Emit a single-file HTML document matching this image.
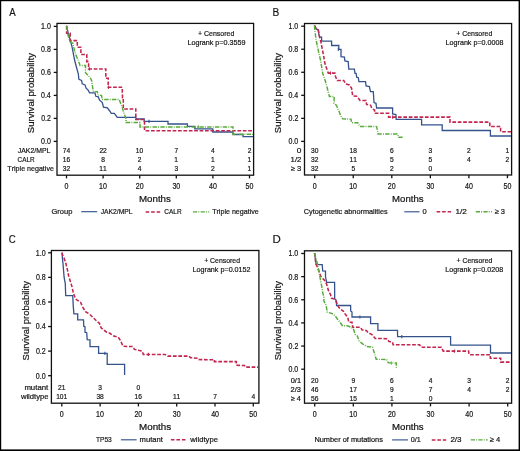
<!DOCTYPE html>
<html><head><meta charset="utf-8"><style>
html,body{margin:0;padding:0;background:#fff;}
svg{display:block;will-change:transform;}
text{font-family:"Liberation Sans",sans-serif;font-kerning:none;stroke:#141414;stroke-width:0.2px;}
</style></head><body>
<svg width="520" height="451" viewBox="0 0 520 451">
<rect x="0" y="0" width="520" height="451" fill="#fff"/>
<rect x="0" y="0" width="520" height="1.2" fill="#000"/>
<rect x="0" y="0" width="1.2" height="451" fill="#000"/>
<rect x="518.6" y="0" width="1.4" height="451" fill="#000"/>
<rect x="0" y="449.4" width="520" height="1.6" fill="#000"/>
<text transform="translate(9.28,16.10) scale(0.8321,1)" font-size="11.6" fill="#141414" style="stroke-width:0.18px">A</text>
<rect x="57.00" y="23.40" width="196.60" height="151.80" fill="none" stroke="#111" stroke-width="1.3"/>
<line x1="53.70" y1="141.40" x2="57.00" y2="141.40" stroke="#111" stroke-width="1.3"/>
<text transform="translate(41.07,144.30) scale(0.8300,1)" font-size="8.5" fill="#141414">0.0</text>
<line x1="53.70" y1="118.40" x2="57.00" y2="118.40" stroke="#111" stroke-width="1.3"/>
<text transform="translate(41.15,121.30) scale(0.8300,1)" font-size="8.5" fill="#141414">0.2</text>
<line x1="53.70" y1="95.40" x2="57.00" y2="95.40" stroke="#111" stroke-width="1.3"/>
<text transform="translate(41.00,98.30) scale(0.8300,1)" font-size="8.5" fill="#141414">0.4</text>
<line x1="53.70" y1="72.40" x2="57.00" y2="72.40" stroke="#111" stroke-width="1.3"/>
<text transform="translate(41.10,75.30) scale(0.8300,1)" font-size="8.5" fill="#141414">0.6</text>
<line x1="53.70" y1="49.40" x2="57.00" y2="49.40" stroke="#111" stroke-width="1.3"/>
<text transform="translate(41.10,52.30) scale(0.8300,1)" font-size="8.5" fill="#141414">0.8</text>
<line x1="53.70" y1="26.40" x2="57.00" y2="26.40" stroke="#111" stroke-width="1.3"/>
<text transform="translate(41.07,29.30) scale(0.8300,1)" font-size="8.5" fill="#141414">1.0</text>
<text transform="translate(33.80,132.70) rotate(-90) translate(-0.43,0) scale(1.0160,1)" font-size="9.4" fill="#141414">Survival probability</text>
<line x1="66.50" y1="175.20" x2="66.50" y2="178.40" stroke="#111" stroke-width="1.3"/>
<text transform="translate(64.54,188.50) scale(0.8300,1)" font-size="8.5" fill="#141414">0</text>
<line x1="103.10" y1="175.20" x2="103.10" y2="178.40" stroke="#111" stroke-width="1.3"/>
<text transform="translate(99.05,188.50) scale(0.8300,1)" font-size="8.5" fill="#141414">10</text>
<line x1="139.70" y1="175.20" x2="139.70" y2="178.40" stroke="#111" stroke-width="1.3"/>
<text transform="translate(135.74,188.50) scale(0.8300,1)" font-size="8.5" fill="#141414">20</text>
<line x1="176.30" y1="175.20" x2="176.30" y2="178.40" stroke="#111" stroke-width="1.3"/>
<text transform="translate(172.38,188.50) scale(0.8300,1)" font-size="8.5" fill="#141414">30</text>
<line x1="212.90" y1="175.20" x2="212.90" y2="178.40" stroke="#111" stroke-width="1.3"/>
<text transform="translate(209.03,188.50) scale(0.8300,1)" font-size="8.5" fill="#141414">40</text>
<line x1="249.50" y1="175.20" x2="249.50" y2="178.40" stroke="#111" stroke-width="1.3"/>
<text transform="translate(245.57,188.50) scale(0.8300,1)" font-size="8.5" fill="#141414">50</text>
<text transform="translate(17.79,153.20) scale(0.9336,1)" font-size="7.4" fill="#141414">JAK2/MPL</text>
<text transform="translate(62.72,153.20) scale(0.9000,1)" font-size="7.4" fill="#141414">74</text>
<text transform="translate(99.40,153.20) scale(0.9000,1)" font-size="7.4" fill="#141414">22</text>
<text transform="translate(135.87,153.20) scale(0.9000,1)" font-size="7.4" fill="#141414">10</text>
<text transform="translate(174.44,153.20) scale(0.9000,1)" font-size="7.4" fill="#141414">7</text>
<text transform="translate(211.07,153.20) scale(0.9000,1)" font-size="7.4" fill="#141414">4</text>
<text transform="translate(247.65,153.20) scale(0.9000,1)" font-size="7.4" fill="#141414">2</text>
<text transform="translate(17.58,162.20) scale(0.8622,1)" font-size="7.4" fill="#141414">CALR</text>
<text transform="translate(62.69,162.20) scale(0.9000,1)" font-size="7.4" fill="#141414">16</text>
<text transform="translate(101.25,162.20) scale(0.9000,1)" font-size="7.4" fill="#141414">8</text>
<text transform="translate(137.85,162.20) scale(0.9000,1)" font-size="7.4" fill="#141414">2</text>
<text transform="translate(174.36,162.20) scale(0.9000,1)" font-size="7.4" fill="#141414">1</text>
<text transform="translate(210.96,162.20) scale(0.9000,1)" font-size="7.4" fill="#141414">1</text>
<text transform="translate(247.56,162.20) scale(0.9000,1)" font-size="7.4" fill="#141414">1</text>
<text transform="translate(7.34,171.30) scale(0.9596,1)" font-size="7.4" fill="#141414">Triple negative</text>
<text transform="translate(62.84,171.30) scale(0.9000,1)" font-size="7.4" fill="#141414">32</text>
<text transform="translate(99.30,171.30) scale(0.9000,1)" font-size="7.4" fill="#141414">11</text>
<text transform="translate(137.87,171.30) scale(0.9000,1)" font-size="7.4" fill="#141414">4</text>
<text transform="translate(174.47,171.30) scale(0.9000,1)" font-size="7.4" fill="#141414">3</text>
<text transform="translate(211.05,171.30) scale(0.9000,1)" font-size="7.4" fill="#141414">2</text>
<text transform="translate(247.56,171.30) scale(0.9000,1)" font-size="7.4" fill="#141414">1</text>
<text transform="translate(139.00,201.70) scale(1.1329,1)" font-size="8.6" fill="#141414">Months</text>
<text transform="translate(51.52,213.70) scale(0.9892,1)" font-size="7.6" fill="#141414">Group</text>
<line x1="81.30" y1="211.70" x2="97.20" y2="211.70" stroke="#34538c" stroke-width="1.15"/>
<text transform="translate(100.69,213.70) scale(0.8865,1)" font-size="7.6" fill="#141414">JAK2/MPL</text>
<line x1="145.60" y1="211.90" x2="160.20" y2="211.90" stroke="#c2254e" stroke-width="1.5" stroke-dasharray="3.6,1.9"/>
<text transform="translate(164.27,213.70) scale(0.8549,1)" font-size="7.6" fill="#141414">CALR</text>
<line x1="193.00" y1="211.90" x2="209.20" y2="211.90" stroke="#58ab3a" stroke-width="1.4" stroke-dasharray="4.2,1.1,1,1.3"/>
<text transform="translate(212.14,213.70) scale(0.9363,1)" font-size="7.6" fill="#141414">Triple negative</text>
<text transform="translate(197.96,35.70) scale(0.8752,1)" font-size="8.0" fill="#141414">+ Censored</text>
<text transform="translate(187.41,44.70) scale(0.8981,1)" font-size="8.0" fill="#141414">Logrank p=0.3559</text>
<polyline points="66.60,25.80 68.20,33.30 72.00,46.60 74.60,60.00 76.40,67.00 78.30,73.80 78.90,79.40 81.60,80.50 82.20,83.80 85.00,84.90 86.10,88.20 88.00,90.00 89.60,92.80 95.00,92.80 95.80,96.30 98.10,96.70 99.60,100.20 102.30,102.50 103.50,107.10 107.40,107.90 109.70,111.00 111.30,113.30 114.40,113.30 115.10,114.50 117.20,117.40 135.80,117.40 136.20,119.00 144.20,119.00 144.20,121.40 168.00,121.40 168.00,124.00 187.40,124.00 187.40,126.40 194.80,126.40 194.80,128.90 212.80,128.90 212.80,132.00 233.00,132.00 233.00,134.50 243.00,134.50 243.00,136.60 253.00,136.60" fill="none" stroke="#34538c" stroke-width="1.3" stroke-linejoin="miter"/>
<line x1="149.00" y1="119.80" x2="149.00" y2="123.00" stroke="#34538c" stroke-width="1.1"/>
<polyline points="66.60,25.80 66.60,33.30 70.20,33.30 70.20,40.60 77.30,40.60 77.30,47.20 80.90,47.20 80.90,54.40 86.80,54.40 86.80,61.60 88.60,61.60 88.60,68.90 105.80,68.90 105.80,78.30 108.20,78.30 108.20,87.30 122.20,87.30 122.50,97.70 123.30,97.70 123.30,108.90 135.80,108.90 135.80,119.50 144.50,119.50 144.50,130.70 253.00,130.70" fill="none" stroke="#c2254e" stroke-width="1.55" stroke-linejoin="miter" stroke-dasharray="3.7,1.7"/>
<line x1="89.40" y1="67.30" x2="89.40" y2="70.50" stroke="#c2254e" stroke-width="1.1"/>
<line x1="108.50" y1="85.70" x2="108.50" y2="88.90" stroke="#c2254e" stroke-width="1.1"/>
<polyline points="66.60,25.80 68.10,35.50 70.10,41.70 72.80,43.30 75.50,54.10 78.30,60.50 80.00,65.50 85.50,65.50 85.50,72.70 87.70,75.00 90.50,78.30 91.60,80.50 92.70,87.80 93.40,91.60 97.30,91.60 98.10,94.70 101.60,95.50 102.00,99.40 119.20,99.40 120.60,103.30 122.10,107.10 123.30,111.00 124.40,114.30 126.00,118.80 126.00,122.50 140.00,122.50 140.00,126.90 233.00,126.90 233.00,134.20 253.00,134.20" fill="none" stroke="#58ab3a" stroke-width="1.45" stroke-linejoin="miter" stroke-dasharray="4.4,1.2,0.9,1.3"/>
<line x1="198.30" y1="125.30" x2="198.30" y2="128.50" stroke="#58ab3a" stroke-width="1.1"/>
<text transform="translate(272.57,16.00) scale(0.8747,1)" font-size="11.6" fill="#141414" style="stroke-width:0.18px">B</text>
<rect x="304.50" y="23.50" width="207.10" height="151.50" fill="none" stroke="#111" stroke-width="1.3"/>
<line x1="301.20" y1="141.40" x2="304.50" y2="141.40" stroke="#111" stroke-width="1.3"/>
<text transform="translate(288.47,144.30) scale(0.8300,1)" font-size="8.5" fill="#141414">0.0</text>
<line x1="301.20" y1="118.36" x2="304.50" y2="118.36" stroke="#111" stroke-width="1.3"/>
<text transform="translate(288.55,121.26) scale(0.8300,1)" font-size="8.5" fill="#141414">0.2</text>
<line x1="301.20" y1="95.32" x2="304.50" y2="95.32" stroke="#111" stroke-width="1.3"/>
<text transform="translate(288.40,98.22) scale(0.8300,1)" font-size="8.5" fill="#141414">0.4</text>
<line x1="301.20" y1="72.28" x2="304.50" y2="72.28" stroke="#111" stroke-width="1.3"/>
<text transform="translate(288.50,75.18) scale(0.8300,1)" font-size="8.5" fill="#141414">0.6</text>
<line x1="301.20" y1="49.24" x2="304.50" y2="49.24" stroke="#111" stroke-width="1.3"/>
<text transform="translate(288.50,52.14) scale(0.8300,1)" font-size="8.5" fill="#141414">0.8</text>
<line x1="301.20" y1="26.20" x2="304.50" y2="26.20" stroke="#111" stroke-width="1.3"/>
<text transform="translate(288.47,29.10) scale(0.8300,1)" font-size="8.5" fill="#141414">1.0</text>
<text transform="translate(281.40,132.70) rotate(-90) translate(-0.43,0) scale(1.0160,1)" font-size="9.4" fill="#141414">Survival probability</text>
<line x1="314.70" y1="175.00" x2="314.70" y2="178.20" stroke="#111" stroke-width="1.3"/>
<text transform="translate(312.74,188.70) scale(0.8300,1)" font-size="8.5" fill="#141414">0</text>
<line x1="353.25" y1="175.00" x2="353.25" y2="178.20" stroke="#111" stroke-width="1.3"/>
<text transform="translate(349.20,188.70) scale(0.8300,1)" font-size="8.5" fill="#141414">10</text>
<line x1="391.80" y1="175.00" x2="391.80" y2="178.20" stroke="#111" stroke-width="1.3"/>
<text transform="translate(387.84,188.70) scale(0.8300,1)" font-size="8.5" fill="#141414">20</text>
<line x1="430.35" y1="175.00" x2="430.35" y2="178.20" stroke="#111" stroke-width="1.3"/>
<text transform="translate(426.43,188.70) scale(0.8300,1)" font-size="8.5" fill="#141414">30</text>
<line x1="468.90" y1="175.00" x2="468.90" y2="178.20" stroke="#111" stroke-width="1.3"/>
<text transform="translate(465.03,188.70) scale(0.8300,1)" font-size="8.5" fill="#141414">40</text>
<line x1="507.45" y1="175.00" x2="507.45" y2="178.20" stroke="#111" stroke-width="1.3"/>
<text transform="translate(503.52,188.70) scale(0.8300,1)" font-size="8.5" fill="#141414">50</text>
<text transform="translate(296.67,153.20) scale(1.1308,1)" font-size="7.4" fill="#141414">0</text>
<text transform="translate(311.00,153.20) scale(0.9000,1)" font-size="7.4" fill="#141414">30</text>
<text transform="translate(349.44,153.20) scale(0.9000,1)" font-size="7.4" fill="#141414">18</text>
<text transform="translate(389.93,153.20) scale(0.9000,1)" font-size="7.4" fill="#141414">6</text>
<text transform="translate(428.52,153.20) scale(0.9000,1)" font-size="7.4" fill="#141414">3</text>
<text transform="translate(467.05,153.20) scale(0.9000,1)" font-size="7.4" fill="#141414">2</text>
<text transform="translate(505.51,153.20) scale(0.9000,1)" font-size="7.4" fill="#141414">1</text>
<text transform="translate(290.61,162.30) scale(1.0480,1)" font-size="7.4" fill="#141414">1/2</text>
<text transform="translate(311.04,162.30) scale(0.9000,1)" font-size="7.4" fill="#141414">32</text>
<text transform="translate(349.45,162.30) scale(0.9000,1)" font-size="7.4" fill="#141414">11</text>
<text transform="translate(389.95,162.30) scale(0.9000,1)" font-size="7.4" fill="#141414">5</text>
<text transform="translate(428.50,162.30) scale(0.9000,1)" font-size="7.4" fill="#141414">5</text>
<text transform="translate(467.07,162.30) scale(0.9000,1)" font-size="7.4" fill="#141414">4</text>
<text transform="translate(505.60,162.30) scale(0.9000,1)" font-size="7.4" fill="#141414">2</text>
<text transform="translate(290.76,171.40) scale(1.0338,1)" font-size="7.4" fill="#141414">≥ 3</text>
<text transform="translate(311.04,171.40) scale(0.9000,1)" font-size="7.4" fill="#141414">32</text>
<text transform="translate(351.40,171.40) scale(0.9000,1)" font-size="7.4" fill="#141414">5</text>
<text transform="translate(389.95,171.40) scale(0.9000,1)" font-size="7.4" fill="#141414">2</text>
<text transform="translate(428.50,171.40) scale(0.9000,1)" font-size="7.4" fill="#141414">0</text>
<text transform="translate(392.11,201.70) scale(1.1146,1)" font-size="8.6" fill="#141414">Months</text>
<text transform="translate(303.73,214.30) scale(0.9610,1)" font-size="7.6" fill="#141414">Cytogenetic abnormalities</text>
<line x1="404.30" y1="211.80" x2="419.50" y2="211.80" stroke="#34538c" stroke-width="1.15"/>
<text transform="translate(422.61,214.30) scale(0.9909,1)" font-size="7.6" fill="#141414">0</text>
<line x1="436.60" y1="211.80" x2="451.10" y2="211.80" stroke="#c2254e" stroke-width="1.5" stroke-dasharray="3.6,1.9"/>
<text transform="translate(455.38,214.30) scale(1.0725,1)" font-size="7.6" fill="#141414">1/2</text>
<line x1="475.80" y1="211.80" x2="491.90" y2="211.80" stroke="#58ab3a" stroke-width="1.4" stroke-dasharray="4.2,1.1,1,1.3"/>
<text transform="translate(494.66,214.30) scale(0.9865,1)" font-size="7.6" fill="#141414">≥ 3</text>
<text transform="translate(456.16,35.70) scale(0.8703,1)" font-size="8.0" fill="#141414">+ Censored</text>
<text transform="translate(445.61,44.70) scale(0.8946,1)" font-size="8.0" fill="#141414">Logrank p=0.0008</text>
<polyline points="314.40,25.50 316.10,28.90 318.30,30.00 318.90,34.40 320.00,37.20 321.60,37.20 321.60,41.10 331.60,41.10 331.60,45.50 338.80,45.50 338.80,49.40 341.00,49.40 341.00,56.60 344.40,57.10 344.90,61.00 348.20,61.60 348.80,69.20 354.40,69.20 355.00,73.30 356.10,73.30 356.70,77.20 358.30,77.70 358.90,81.60 365.50,81.60 366.10,86.00 369.40,86.60 370.50,91.60 373.30,91.60 374.00,102.60 376.00,103.30 376.60,108.00 392.60,108.00 392.60,113.90 395.90,114.60 396.20,119.40 421.60,119.40 421.60,124.90 442.20,124.90 442.20,130.50 490.40,130.50 490.40,136.00 511.00,136.00" fill="none" stroke="#34538c" stroke-width="1.3" stroke-linejoin="miter"/>
<line x1="338.30" y1="47.80" x2="338.30" y2="51.00" stroke="#34538c" stroke-width="1.1"/>
<polyline points="314.40,25.50 316.10,28.30 318.30,30.00 319.40,36.60 321.00,42.20 322.20,48.80 323.60,55.50 324.50,61.50 325.50,65.50 327.20,70.00 328.30,73.10 334.90,73.10 335.50,76.60 337.20,80.50 343.80,80.50 345.50,83.80 349.40,85.00 351.60,88.30 352.70,96.00 356.60,96.30 358.80,98.80 360.00,100.50 366.00,100.60 366.60,104.40 370.60,105.30 372.00,108.60 374.60,110.00 374.60,113.30 388.60,113.30 388.60,117.10 450.00,117.10 450.00,122.10 489.80,122.10 489.80,126.50 500.60,126.50 500.60,131.70 511.00,131.70" fill="none" stroke="#c2254e" stroke-width="1.55" stroke-linejoin="miter" stroke-dasharray="3.7,1.7"/>
<line x1="330.50" y1="71.50" x2="330.50" y2="74.70" stroke="#c2254e" stroke-width="1.1"/>
<line x1="392.60" y1="115.50" x2="392.60" y2="118.70" stroke="#c2254e" stroke-width="1.1"/>
<polyline points="314.40,25.50 315.00,31.10 316.10,40.00 317.70,47.70 318.90,53.30 320.50,60.00 321.60,66.70 322.70,73.30 325.00,80.00 326.60,85.50 328.30,92.20 329.40,96.50 334.20,96.50 334.00,103.30 336.60,105.50 337.70,108.90 339.40,112.20 340.50,115.50 342.70,118.80 351.00,119.20 351.60,122.70 357.70,122.70 359.90,126.40 376.60,126.60 377.30,129.90 378.00,133.90 397.20,133.90 398.60,137.20 402.60,137.20" fill="none" stroke="#58ab3a" stroke-width="1.45" stroke-linejoin="miter" stroke-dasharray="4.4,1.2,0.9,1.3"/>
<text transform="translate(8.71,243.20) scale(0.8304,1)" font-size="11.6" fill="#141414" style="stroke-width:0.18px">C</text>
<rect x="51.40" y="250.50" width="207.50" height="152.70" fill="none" stroke="#111" stroke-width="1.3"/>
<line x1="48.10" y1="375.70" x2="51.40" y2="375.70" stroke="#111" stroke-width="1.3"/>
<text transform="translate(35.87,378.60) scale(0.8300,1)" font-size="8.5" fill="#141414">0.0</text>
<line x1="48.10" y1="351.12" x2="51.40" y2="351.12" stroke="#111" stroke-width="1.3"/>
<text transform="translate(35.95,354.02) scale(0.8300,1)" font-size="8.5" fill="#141414">0.2</text>
<line x1="48.10" y1="326.54" x2="51.40" y2="326.54" stroke="#111" stroke-width="1.3"/>
<text transform="translate(35.80,329.44) scale(0.8300,1)" font-size="8.5" fill="#141414">0.4</text>
<line x1="48.10" y1="301.96" x2="51.40" y2="301.96" stroke="#111" stroke-width="1.3"/>
<text transform="translate(35.90,304.86) scale(0.8300,1)" font-size="8.5" fill="#141414">0.6</text>
<line x1="48.10" y1="277.38" x2="51.40" y2="277.38" stroke="#111" stroke-width="1.3"/>
<text transform="translate(35.90,280.28) scale(0.8300,1)" font-size="8.5" fill="#141414">0.8</text>
<line x1="48.10" y1="252.80" x2="51.40" y2="252.80" stroke="#111" stroke-width="1.3"/>
<text transform="translate(35.87,255.70) scale(0.8300,1)" font-size="8.5" fill="#141414">1.0</text>
<text transform="translate(28.70,360.00) rotate(-90) translate(-0.43,0) scale(1.0071,1)" font-size="9.4" fill="#141414">Survival probability</text>
<line x1="61.80" y1="403.20" x2="61.80" y2="406.40" stroke="#111" stroke-width="1.3"/>
<text transform="translate(59.84,416.50) scale(0.8300,1)" font-size="8.5" fill="#141414">0</text>
<line x1="100.10" y1="403.20" x2="100.10" y2="406.40" stroke="#111" stroke-width="1.3"/>
<text transform="translate(96.05,416.50) scale(0.8300,1)" font-size="8.5" fill="#141414">10</text>
<line x1="138.40" y1="403.20" x2="138.40" y2="406.40" stroke="#111" stroke-width="1.3"/>
<text transform="translate(134.44,416.50) scale(0.8300,1)" font-size="8.5" fill="#141414">20</text>
<line x1="176.70" y1="403.20" x2="176.70" y2="406.40" stroke="#111" stroke-width="1.3"/>
<text transform="translate(172.78,416.50) scale(0.8300,1)" font-size="8.5" fill="#141414">30</text>
<line x1="215.00" y1="403.20" x2="215.00" y2="406.40" stroke="#111" stroke-width="1.3"/>
<text transform="translate(211.13,416.50) scale(0.8300,1)" font-size="8.5" fill="#141414">40</text>
<line x1="253.30" y1="403.20" x2="253.30" y2="406.40" stroke="#111" stroke-width="1.3"/>
<text transform="translate(249.37,416.50) scale(0.8300,1)" font-size="8.5" fill="#141414">50</text>
<text transform="translate(24.38,390.30) scale(1.0554,1)" font-size="7.4" fill="#141414">mutant</text>
<text transform="translate(58.09,390.30) scale(0.9000,1)" font-size="7.4" fill="#141414">21</text>
<text transform="translate(98.27,390.30) scale(0.9000,1)" font-size="7.4" fill="#141414">3</text>
<text transform="translate(136.55,390.30) scale(0.9000,1)" font-size="7.4" fill="#141414">0</text>
<text transform="translate(20.91,399.30) scale(1.0334,1)" font-size="7.4" fill="#141414">wildtype</text>
<text transform="translate(56.15,399.30) scale(0.9000,1)" font-size="7.4" fill="#141414">101</text>
<text transform="translate(96.41,399.30) scale(0.9000,1)" font-size="7.4" fill="#141414">38</text>
<text transform="translate(134.59,399.30) scale(0.9000,1)" font-size="7.4" fill="#141414">16</text>
<text transform="translate(172.90,399.30) scale(0.9000,1)" font-size="7.4" fill="#141414">11</text>
<text transform="translate(213.14,399.30) scale(0.9000,1)" font-size="7.4" fill="#141414">7</text>
<text transform="translate(251.47,399.30) scale(0.9000,1)" font-size="7.4" fill="#141414">4</text>
<text transform="translate(138.99,430.00) scale(1.1440,1)" font-size="8.6" fill="#141414">Months</text>
<text transform="translate(96.05,442.00) scale(0.8663,1)" font-size="7.6" fill="#141414">TP53</text>
<line x1="120.90" y1="439.80" x2="136.60" y2="439.80" stroke="#34538c" stroke-width="1.15"/>
<text transform="translate(139.59,442.00) scale(1.0056,1)" font-size="7.6" fill="#141414">mutant</text>
<line x1="170.90" y1="439.80" x2="185.90" y2="439.80" stroke="#c2254e" stroke-width="1.5" stroke-dasharray="3.6,1.9"/>
<text transform="translate(190.31,442.00) scale(1.0062,1)" font-size="7.6" fill="#141414">wildtype</text>
<text transform="translate(204.16,262.60) scale(0.8629,1)" font-size="8.0" fill="#141414">+ Censored</text>
<text transform="translate(192.51,272.00) scale(0.8985,1)" font-size="8.0" fill="#141414">Logrank p=0.0152</text>
<polyline points="62.00,252.60 62.50,259.10 63.10,264.60 63.60,271.30 64.20,278.00 65.30,283.50 65.50,290.10 65.70,295.60 72.70,295.60 73.30,306.60 73.90,313.80 77.70,313.80 77.70,319.90 83.50,319.90 83.80,326.40 85.00,326.70 85.00,332.20 86.70,332.70 87.20,339.60 90.00,339.80 90.00,346.60 98.60,346.60 98.60,353.30 107.20,353.30 107.20,364.30 124.60,364.30 124.60,375.00" fill="none" stroke="#34538c" stroke-width="1.3" stroke-linejoin="miter"/>
<line x1="104.90" y1="351.70" x2="104.90" y2="354.90" stroke="#34538c" stroke-width="1.1"/>
<polyline points="62.00,252.60 62.50,254.70 64.20,258.50 65.90,263.50 67.50,270.20 68.60,275.70 70.30,281.30 72.00,286.80 73.20,292.30 73.90,294.40 75.50,298.90 80.50,302.20 82.70,307.20 85.50,311.60 88.30,313.30 91.00,315.50 93.80,318.30 96.60,321.00 99.40,323.30 101.10,327.80 106.60,332.20 109.90,333.30 113.80,336.10 118.20,337.20 120.50,340.50 123.00,346.30 132.70,346.60 134.40,349.40 142.20,351.10 143.30,354.40 165.00,354.40 167.70,356.10 188.80,356.10 190.60,357.70 197.90,358.30 198.80,359.60 214.40,359.70 214.40,361.60 236.30,361.60 236.30,365.20 244.50,365.60 245.40,367.10 258.00,367.10" fill="none" stroke="#c2254e" stroke-width="1.55" stroke-linejoin="miter" stroke-dasharray="3.7,1.7"/>
<line x1="148.30" y1="352.80" x2="148.30" y2="356.00" stroke="#c2254e" stroke-width="1.1"/>
<text transform="translate(272.46,242.80) scale(0.9897,1)" font-size="11.6" fill="#141414" style="stroke-width:0.18px">D</text>
<rect x="304.50" y="250.80" width="207.10" height="152.40" fill="none" stroke="#111" stroke-width="1.3"/>
<line x1="301.20" y1="369.20" x2="304.50" y2="369.20" stroke="#111" stroke-width="1.3"/>
<text transform="translate(288.47,372.10) scale(0.8300,1)" font-size="8.5" fill="#141414">0.0</text>
<line x1="301.20" y1="346.06" x2="304.50" y2="346.06" stroke="#111" stroke-width="1.3"/>
<text transform="translate(288.55,348.96) scale(0.8300,1)" font-size="8.5" fill="#141414">0.2</text>
<line x1="301.20" y1="322.92" x2="304.50" y2="322.92" stroke="#111" stroke-width="1.3"/>
<text transform="translate(288.40,325.82) scale(0.8300,1)" font-size="8.5" fill="#141414">0.4</text>
<line x1="301.20" y1="299.78" x2="304.50" y2="299.78" stroke="#111" stroke-width="1.3"/>
<text transform="translate(288.50,302.68) scale(0.8300,1)" font-size="8.5" fill="#141414">0.6</text>
<line x1="301.20" y1="276.64" x2="304.50" y2="276.64" stroke="#111" stroke-width="1.3"/>
<text transform="translate(288.50,279.54) scale(0.8300,1)" font-size="8.5" fill="#141414">0.8</text>
<line x1="301.20" y1="253.50" x2="304.50" y2="253.50" stroke="#111" stroke-width="1.3"/>
<text transform="translate(288.47,256.40) scale(0.8300,1)" font-size="8.5" fill="#141414">1.0</text>
<text transform="translate(281.30,359.80) rotate(-90) translate(-0.43,0) scale(1.0058,1)" font-size="9.4" fill="#141414">Survival probability</text>
<line x1="314.70" y1="403.20" x2="314.70" y2="406.40" stroke="#111" stroke-width="1.3"/>
<text transform="translate(312.74,416.70) scale(0.8300,1)" font-size="8.5" fill="#141414">0</text>
<line x1="353.30" y1="403.20" x2="353.30" y2="406.40" stroke="#111" stroke-width="1.3"/>
<text transform="translate(349.25,416.70) scale(0.8300,1)" font-size="8.5" fill="#141414">10</text>
<line x1="391.90" y1="403.20" x2="391.90" y2="406.40" stroke="#111" stroke-width="1.3"/>
<text transform="translate(387.94,416.70) scale(0.8300,1)" font-size="8.5" fill="#141414">20</text>
<line x1="430.50" y1="403.20" x2="430.50" y2="406.40" stroke="#111" stroke-width="1.3"/>
<text transform="translate(426.58,416.70) scale(0.8300,1)" font-size="8.5" fill="#141414">30</text>
<line x1="469.10" y1="403.20" x2="469.10" y2="406.40" stroke="#111" stroke-width="1.3"/>
<text transform="translate(465.23,416.70) scale(0.8300,1)" font-size="8.5" fill="#141414">40</text>
<line x1="507.70" y1="403.20" x2="507.70" y2="406.40" stroke="#111" stroke-width="1.3"/>
<text transform="translate(503.77,416.70) scale(0.8300,1)" font-size="8.5" fill="#141414">50</text>
<text transform="translate(290.71,382.60) scale(1.0066,1)" font-size="7.4" fill="#141414">0/1</text>
<text transform="translate(310.96,382.60) scale(0.9000,1)" font-size="7.4" fill="#141414">20</text>
<text transform="translate(351.45,382.60) scale(0.9000,1)" font-size="7.4" fill="#141414">9</text>
<text transform="translate(390.03,382.60) scale(0.9000,1)" font-size="7.4" fill="#141414">6</text>
<text transform="translate(428.67,382.60) scale(0.9000,1)" font-size="7.4" fill="#141414">4</text>
<text transform="translate(467.27,382.60) scale(0.9000,1)" font-size="7.4" fill="#141414">3</text>
<text transform="translate(505.85,382.60) scale(0.9000,1)" font-size="7.4" fill="#141414">2</text>
<text transform="translate(290.62,391.90) scale(1.0115,1)" font-size="7.4" fill="#141414">2/3</text>
<text transform="translate(311.07,391.90) scale(0.9000,1)" font-size="7.4" fill="#141414">46</text>
<text transform="translate(349.51,391.90) scale(0.9000,1)" font-size="7.4" fill="#141414">17</text>
<text transform="translate(390.05,391.90) scale(0.9000,1)" font-size="7.4" fill="#141414">9</text>
<text transform="translate(428.64,391.90) scale(0.9000,1)" font-size="7.4" fill="#141414">7</text>
<text transform="translate(467.27,391.90) scale(0.9000,1)" font-size="7.4" fill="#141414">4</text>
<text transform="translate(505.85,391.90) scale(0.9000,1)" font-size="7.4" fill="#141414">2</text>
<text transform="translate(290.77,401.00) scale(0.9917,1)" font-size="7.4" fill="#141414">≥ 4</text>
<text transform="translate(311.01,401.00) scale(0.9000,1)" font-size="7.4" fill="#141414">56</text>
<text transform="translate(349.48,401.00) scale(0.9000,1)" font-size="7.4" fill="#141414">15</text>
<text transform="translate(389.96,401.00) scale(0.9000,1)" font-size="7.4" fill="#141414">1</text>
<text transform="translate(428.65,401.00) scale(0.9000,1)" font-size="7.4" fill="#141414">0</text>
<text transform="translate(392.01,429.80) scale(1.1219,1)" font-size="8.6" fill="#141414">Months</text>
<text transform="translate(314.39,442.20) scale(0.9721,1)" font-size="7.6" fill="#141414">Number of mutations</text>
<line x1="392.10" y1="439.90" x2="408.00" y2="439.90" stroke="#34538c" stroke-width="1.15"/>
<text transform="translate(410.72,442.20) scale(0.9498,1)" font-size="7.6" fill="#141414">0/1</text>
<line x1="431.80" y1="439.90" x2="446.20" y2="439.90" stroke="#c2254e" stroke-width="1.5" stroke-dasharray="3.6,1.9"/>
<text transform="translate(450.40,442.20) scale(1.0560,1)" font-size="7.6" fill="#141414">2/3</text>
<line x1="470.80" y1="439.90" x2="487.70" y2="439.90" stroke="#58ab3a" stroke-width="1.4" stroke-dasharray="4.2,1.1,1,1.3"/>
<text transform="translate(489.76,442.20) scale(0.9955,1)" font-size="7.6" fill="#141414">≥ 4</text>
<text transform="translate(456.46,262.80) scale(0.8629,1)" font-size="8.0" fill="#141414">+ Censored</text>
<text transform="translate(445.31,272.20) scale(0.8961,1)" font-size="8.0" fill="#141414">Logrank p=0.0208</text>
<polyline points="314.40,253.20 315.50,259.10 316.10,264.60 322.20,264.60 322.70,270.90 325.50,271.10 325.50,276.80 326.60,282.40 334.60,282.40 334.70,298.90 336.10,300.00 336.60,305.50 350.60,305.50 350.70,311.00 352.00,312.00 352.00,317.00 370.60,317.00 370.60,323.70 377.90,323.70 377.90,330.30 397.50,330.30 397.60,336.70 450.60,336.70 450.60,345.20 490.50,345.20 490.50,353.00 511.00,353.00" fill="none" stroke="#34538c" stroke-width="1.3" stroke-linejoin="miter"/>
<line x1="359.90" y1="315.40" x2="359.90" y2="318.60" stroke="#34538c" stroke-width="1.1"/>
<line x1="401.80" y1="335.10" x2="401.80" y2="338.30" stroke="#34538c" stroke-width="1.1"/>
<polyline points="314.40,253.20 315.00,254.10 315.50,261.30 316.60,265.20 318.90,271.30 320.50,275.70 322.20,277.90 324.40,280.20 326.60,284.00 328.30,290.10 330.50,294.60 331.60,298.30 334.40,298.90 336.60,302.20 337.70,305.50 339.90,308.80 343.30,311.10 344.90,313.80 347.70,317.20 348.80,322.20 352.00,322.20 352.70,327.30 360.60,327.30 362.00,329.90 366.60,330.60 368.00,332.60 371.90,334.60 373.00,335.50 375.20,338.40 387.30,338.70 389.00,341.50 392.50,342.10 393.10,344.80 419.60,344.80 421.30,347.30 441.40,347.30 443.20,351.10 468.60,351.10 469.10,354.70 490.30,354.70 490.30,358.30 500.70,358.30 500.70,362.10 511.00,362.10" fill="none" stroke="#c2254e" stroke-width="1.55" stroke-linejoin="miter" stroke-dasharray="3.7,1.7"/>
<line x1="454.40" y1="349.50" x2="454.40" y2="352.70" stroke="#c2254e" stroke-width="1.1"/>
<polyline points="314.40,253.20 316.10,259.10 317.70,264.60 319.40,273.50 320.50,280.20 321.60,285.70 322.70,292.30 323.80,296.80 323.90,301.10 326.10,305.00 327.20,312.20 331.60,313.30 335.00,315.50 337.20,318.80 340.00,322.20 342.20,325.50 348.30,326.00 353.30,328.60 355.30,334.60 357.30,335.90 359.30,341.20 362.60,343.90 366.60,346.50 372.60,347.20 374.30,353.00 376.20,359.30 386.70,359.50 388.30,362.80 396.30,363.00 396.30,369.30" fill="none" stroke="#58ab3a" stroke-width="1.45" stroke-linejoin="miter" stroke-dasharray="4.4,1.2,0.9,1.3"/>
<line x1="391.30" y1="361.40" x2="391.30" y2="364.60" stroke="#58ab3a" stroke-width="1.1"/>
</svg>
</body></html>
